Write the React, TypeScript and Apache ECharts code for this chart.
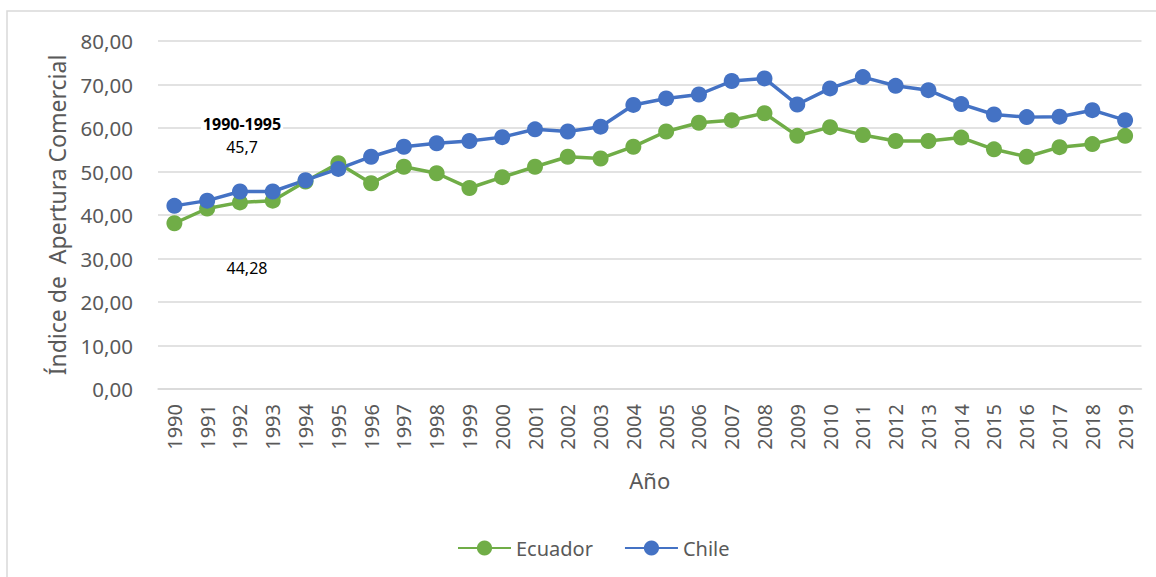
import React, { useEffect, useRef } from "react";
import * as echarts from "echarts";

const years = ["1990","1991","1992","1993","1994","1995","1996","1997","1998","1999","2000","2001","2002","2003","2004","2005","2006","2007","2008","2009","2010","2011","2012","2013","2014","2015","2016","2017","2018","2019"];
const ecuador = [38.1, 41.5, 42.9, 43.3, 47.7, 51.9, 47.3, 51.1, 49.6, 46.2, 48.7, 51.1, 53.4, 53.0, 55.7, 59.2, 61.2, 61.8, 63.4, 58.2, 60.2, 58.4, 57.0, 57.0, 57.8, 55.1, 53.4, 55.6, 56.3, 58.2];
const chile = [42.1, 43.3, 45.4, 45.4, 48.0, 50.6, 53.4, 55.7, 56.5, 57.0, 57.9, 59.7, 59.2, 60.3, 65.3, 66.8, 67.7, 70.8, 71.4, 65.4, 69.1, 71.7, 69.7, 68.7, 65.5, 63.1, 62.5, 62.6, 64.1, 61.8];
const seriesNames = ["Ecuador", "Chile"];
const annotationPeriod = "1990-1995";
const annotationChile = "45,7";
const annotationEcuador = "44,28";

const FONT = "Noto Sans";

export default function App() {
  const ref = useRef<HTMLDivElement>(null);
  useEffect(() => {
    document.body.style.margin = "0";
    const chart = echarts.init(ref.current!, null, { renderer: "svg" });
    chart.setOption({
      animation: false,
      backgroundColor: "#ffffff",
      textStyle: { fontFamily: FONT },
      grid: { left: 158, right: 14.5, top: 41, bottom: 188 },
      legend: {
        data: seriesNames,
        left: 452,
        top: 533,
        itemWidth: 53,
        itemHeight: 19,
        itemGap: 31,
        textStyle: { fontSize: 20, color: "#595959", fontFamily: FONT },
      },
      xAxis: {
        type: "category",
        data: years,
        boundaryGap: true,
        name: "Año",
        nameLocation: "middle",
        nameGap: 80,
        nameTextStyle: { fontSize: 22, color: "#595959", fontFamily: FONT, verticalAlign: "top" },
        axisLine: { show: true, lineStyle: { color: "#d9d9d9", width: 1.5 } },
        axisTick: { show: false },
        axisLabel: { rotate: 90, margin: 15, fontSize: 20, color: "#595959", fontFamily: FONT },
      },
      yAxis: {
        type: "value",
        min: 0,
        max: 80,
        interval: 10,
        name: "Índice de  Apertura Comercial",
        nameLocation: "middle",
        nameGap: 90,
        nameTextStyle: { fontSize: 23, color: "#595959", fontFamily: FONT },
        axisLine: { show: false },
        axisTick: { show: false },
        splitLine: { lineStyle: { color: "#d9d9d9", width: 1.5 } },
        axisLabel: {
          margin: 25,
          fontSize: 20.5,
          color: "#595959",
          fontFamily: FONT,
          formatter: (v: number) => v.toFixed(2).replace(".", ","),
        },
      },
      series: [
        {
          name: seriesNames[0],
          type: "line",
          data: ecuador,
          symbol: "circle",
          symbolSize: 16,
          lineStyle: { color: "#70AD47", width: 3.5 },
          itemStyle: { color: "#70AD47" },
        },
        {
          name: seriesNames[1],
          type: "line",
          data: chile,
          symbol: "circle",
          symbolSize: 16,
          lineStyle: { color: "#4472C4", width: 3.5 },
          itemStyle: { color: "#4472C4" },
        },
      ],
      graphic: [
        {
          type: "rect",
          shape: { x: 7, y: 11, width: 1200, height: 620 },
          style: { fill: "none", stroke: "#d9d9d9", lineWidth: 1.5 },
          z: -10,
          silent: true,
        },
        {
          type: "text",
          x: 242,
          y: 124,
          z: 10,
          style: {
            text: annotationPeriod,
            fontSize: 16,
            fontWeight: "bold",
            fontFamily: FONT,
            fill: "#000",
            align: "center",
            verticalAlign: "middle",
            backgroundColor: "#ffffff",
            padding: [1, 2],
          },
        },
        {
          type: "text",
          x: 242,
          y: 147,
          z: 10,
          style: { text: annotationChile, fontSize: 16, fontFamily: FONT, fill: "#000", align: "center", verticalAlign: "middle" },
        },
        {
          type: "text",
          x: 247,
          y: 268,
          z: 10,
          style: { text: annotationEcuador, fontSize: 16, fontFamily: FONT, fill: "#000", align: "center", verticalAlign: "middle" },
        },
      ],
    });
    return () => chart.dispose();
  }, []);
  return <div ref={ref} style={{ width: 1156, height: 577 }} />;
}
